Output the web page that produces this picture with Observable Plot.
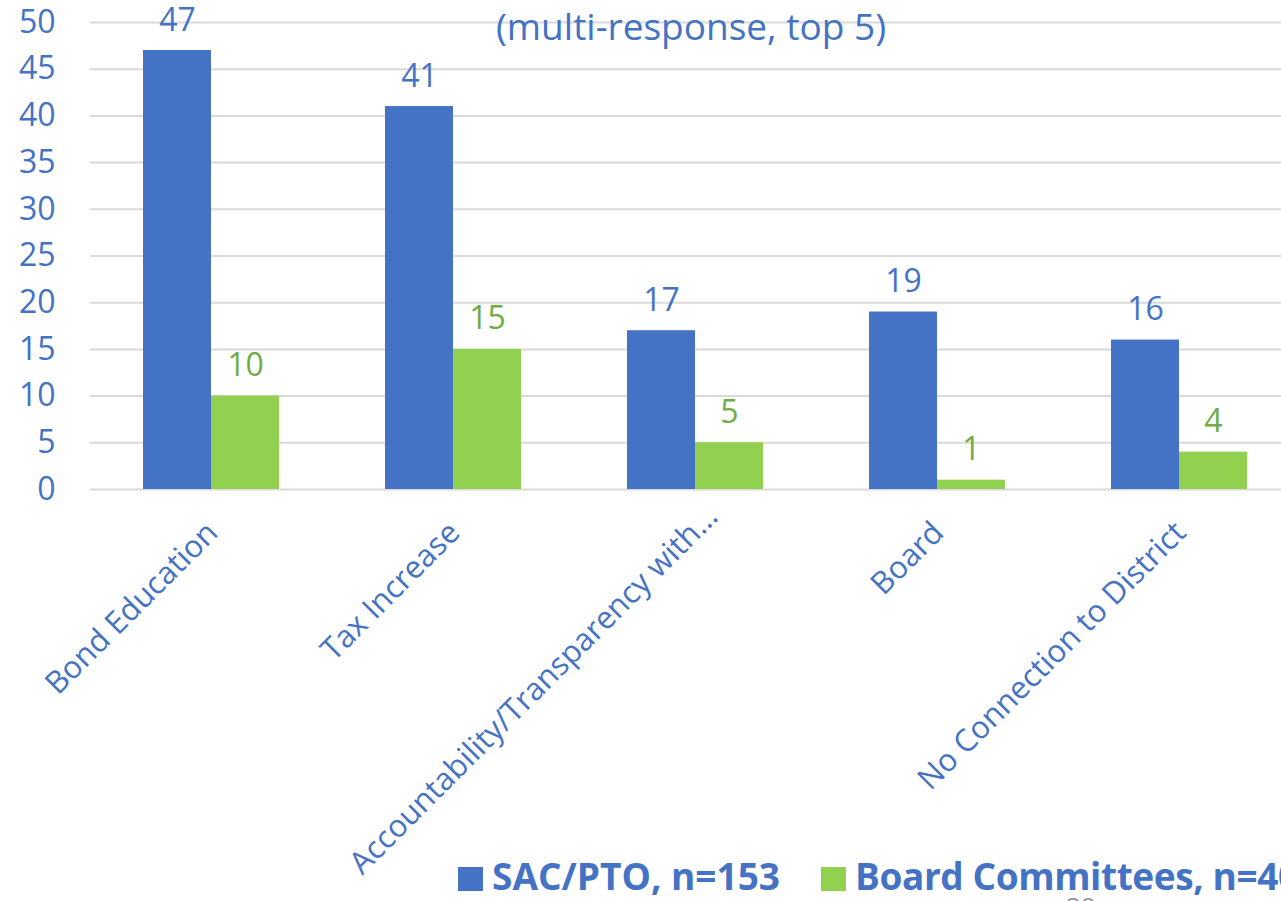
<!DOCTYPE html>
<html>
<head>
<meta charset="utf-8">
<script src="https://cdn.jsdelivr.net/npm/d3@7"></script>
<script src="https://cdn.jsdelivr.net/npm/@observablehq/plot@0.6"></script>
<style>
  html, body { margin: 0; padding: 0; background: #fff; }
  body { width: 1281px; height: 901px; overflow: hidden; position: relative; font-family: "Open Sans", sans-serif; }
  #chart { position: absolute; left: 0; top: 0; width: 1300px; }
  #chart svg { max-width: none !important; }
  #subtitle { position: absolute; top: 4px; left: 0; width: 1382px; text-align: center; font-size: 37px; line-height: 44px; color: #4472C4; }
  #legend { position: absolute; left: 458px; top: 852px; white-space: nowrap; font-size: 37px; font-weight: 700; color: #4472C4; line-height: 48px; }
  #legend .item { display: inline-flex; align-items: center; margin-right: 41px; }
  #legend .sw { display: inline-block; width: 25px; height: 24px; margin-right: 9px; margin-top: 6px; }
  #legend .txt2 { letter-spacing: -0.4px; }
  #pagenum { position: absolute; left: 1066px; top: 891px; font-size: 26px; color: #999; line-height: 30px; }
</style>
</head>
<body>
<div id="chart"></div>
<div id="subtitle">(multi-response, top 5)</div>
<div id="legend"></div>
<div id="pagenum">38</div>
<script>
const categories = ["Bond Education", "Tax Increase", "Accountability/Transparency with…", "Board", "No Connection to District"];
const seriesNames = ["SAC/PTO, n=153", "Board Committees, n=40"];
const sacValues = [47, 41, 17, 19, 16];
const boardValues = [10, 15, 5, 1, 4];
const yTicks = [0, 5, 10, 15, 20, 25, 30, 35, 40, 45, 50];
const barColors = ["#4472C4", "#92D050"];
const labelColors = ["#4472C4", "#70AD47"];

const data = categories.flatMap((c, i) => [
  {category: c, series: seriesNames[0], value: sacValues[i]},
  {category: c, series: seriesNames[1], value: boardValues[i]}
]);

const blue = "#4472C4";
const longLabel = categories[2];
const shortLabels = categories.filter(c => c !== longLabel);

const labelStyle = {
  fx: d => d, text: d => d, frameAnchor: "bottom", rotate: -45,
  textAnchor: "end", lineAnchor: "middle", fontSize: 31, fill: blue
};

const chart = Plot.plot({
  width: 1300,
  height: 840,
  marginLeft: 90,
  marginRight: 0,
  marginTop: 22,
  marginBottom: 351,
  style: {fontFamily: "Open Sans, sans-serif", background: "transparent", overflow: "visible", maxWidth: "none"},
  fx: {domain: categories, padding: 0, label: null, axis: null},
  x: {domain: seriesNames, paddingInner: 0, paddingOuter: 0.754, axis: null},
  y: {domain: [0, 50], label: null},
  color: {domain: seriesNames, range: barColors},
  marks: [
    Plot.gridY(yTicks, {stroke: "#d9d9d9", strokeOpacity: 1, strokeWidth: 2}),
    Plot.axisY(yTicks, {tickSize: 0, tickPadding: 35, fontSize: 32, fill: blue, label: null}),
    Plot.barY(data, {fx: "category", x: "series", y: "value", fill: "series"}),
    Plot.text(data, {
      fx: "category", x: "series", y: "value",
      text: d => String(d.value),
      fill: d => labelColors[seriesNames.indexOf(d.series)],
      fontSize: 32, lineAnchor: "bottom", dy: -20
    }),
    Plot.text(shortLabels, {...labelStyle, dx: 1, dy: 38}),
    Plot.text([longLabel], {...labelStyle, dx: 17, dy: 22})
  ]
});
document.getElementById("chart").appendChild(chart);

const legend = document.getElementById("legend");
seriesNames.forEach((s, i) => {
  const item = document.createElement("span");
  item.className = "item";
  const sw = document.createElement("span");
  sw.className = "sw";
  sw.style.background = barColors[i];
  item.appendChild(sw);
  const t = document.createElement("span");
  t.className = "txt" + (i + 1);
  t.textContent = s;
  item.appendChild(t);
  legend.appendChild(item);
});
</script>
</body>
</html>
